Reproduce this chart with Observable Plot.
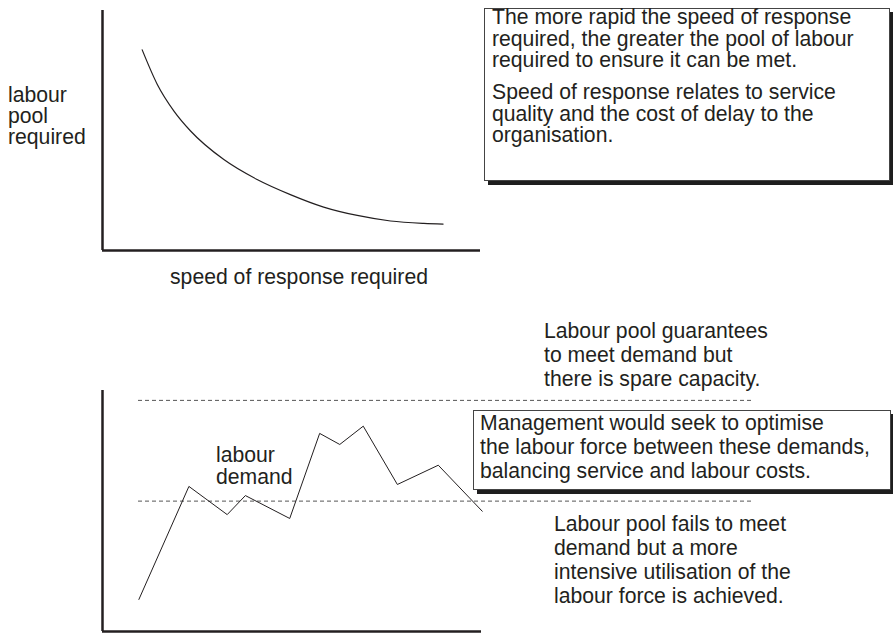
<!DOCTYPE html>
<html>
<head>
<meta charset="utf-8">
<script src="https://cdn.jsdelivr.net/npm/d3@7"></script>
<script src="https://cdn.jsdelivr.net/npm/@observablehq/plot@0.6"></script>
<style>
  html, body { margin: 0; padding: 0; background: #fff; overflow: hidden; }
  #wrap { position: relative; width: 893px; height: 633px; font-family: "Liberation Sans", Arial, sans-serif; color: #231f20; }
  #wrap svg { display: block; }
  .t { position: absolute; font-size: 21.2px; white-space: nowrap; margin: 0; }
  .box { position: absolute; box-sizing: border-box; background: #fff; border: 1px solid #444; box-shadow: 4px 4px 0 #1e1e1e; }
</style>
</head>
<body>
<div id="wrap"></div>
<script>
// ---- Top chart: labour pool required vs speed of response required (relative units 0-10)
const speed = [1.05, 1.45, 1.89, 2.33, 3.21, 4.09, 4.97, 5.85, 6.74, 7.62, 8.50, 9.01];
const pool  = [8.36, 6.92, 5.81, 4.98, 3.79, 2.96, 2.33, 1.81, 1.46, 1.23, 1.13, 1.10];

// ---- Bottom chart: labour demand over time (relative units 0-10)
const period = [0.96, 2.28, 3.29, 3.77, 4.94, 5.73, 6.26, 6.88, 7.78, 8.86, 10.02];
const demand = [1.33, 6.02, 4.85, 5.64, 4.69, 8.22, 7.76, 8.52, 6.10, 6.90, 4.99];

// dashed labour-pool levels (upper = spare capacity, lower = fails to meet)
const poolLevels = [9.59, 5.41];
const levelStart = 0.95;
const levelEnd = 17.15;

// ---- Texts
const yLabel = ["labour", "pool", "required"];
const xLabel = "speed of response required";
const topNote1 = ["The more rapid the speed of response", "required, the greater the pool of labour", "required to ensure it can be met."];
const topNote2 = ["Speed of response relates to service", "quality and the cost of delay to the", "organisation."];
const demandLabel = ["labour", "demand"];
const upperNote = ["Labour pool guarantees", "to meet demand but", "there is spare capacity."];
const midNote = ["Management would seek to optimise", "the labour force between these demands,", "balancing service and labour costs."];
const lowerNote = ["Labour pool fails to meet", "demand but a more", "intensive utilisation of the", "labour force is achieved."];

const ink = "#231f20";
const wrap = document.getElementById("wrap");

const curveData = speed.map((s, i) => ({speed: s, pool: pool[i]}));
const topChart = Plot.plot({
  width: 893, height: 300,
  marginLeft: 102, marginRight: 413, marginTop: 10, marginBottom: 50,
  x: {domain: [0, 10], axis: null},
  y: {domain: [0, 10], axis: null},
  marks: [
    Plot.line(curveData, {x: "speed", y: "pool", curve: "monotone-x", stroke: ink, strokeWidth: 1.2}),
    Plot.ruleX([0], {stroke: ink, strokeWidth: 2.5}),
    Plot.ruleY([0], {stroke: ink, strokeWidth: 2.5})
  ]
});
wrap.appendChild(topChart);

const demandData = period.map((p, i) => ({period: p, demand: demand[i]}));
const bottomChart = Plot.plot({
  width: 893, height: 333,
  marginLeft: 102, marginRight: 412, marginTop: 90, marginBottom: 2,
  x: {domain: [0, 10], axis: null},
  y: {domain: [0, 10], axis: null},
  marks: [
    Plot.ruleY(poolLevels, {y: d => d, x1: levelStart, x2: levelEnd, stroke: "#555", strokeWidth: 1, strokeDasharray: "4,3"}),
    Plot.line(demandData, {x: "period", y: "demand", stroke: ink, strokeWidth: 1}),
    Plot.ruleX([0], {stroke: ink, strokeWidth: 2.5}),
    Plot.ruleY([0], {stroke: ink, strokeWidth: 2.5})
  ]
});
wrap.appendChild(bottomChart);

function addBox(left, topPx, w, h) {
  const d = document.createElement("div");
  d.className = "box";
  Object.assign(d.style, {left: left + "px", top: topPx + "px", width: w + "px", height: h + "px"});
  wrap.appendChild(d);
}
function addText(lines, left, topPx, lh) {
  const d = document.createElement("div");
  d.className = "t";
  Object.assign(d.style, {left: left + "px", top: topPx + "px", lineHeight: lh + "px"});
  d.innerHTML = lines.join("<br>");
  wrap.appendChild(d);
  return d;
}

addBox(484, 8, 406, 173);
addBox(473, 410, 418, 80);

addText(yLabel, 8, 84, 21);
addText([xLabel], 170, 265.5, 21);
addText(topNote1, 492, 6, 21.7);
addText(topNote2, 492, 81, 21.7);
addText(demandLabel, 216, 444, 22);
addText(upperNote, 544, 319, 24);
addText(midNote, 480, 411, 24);
addText(lowerNote, 554, 511.5, 24);
</script>
</body>
</html>
